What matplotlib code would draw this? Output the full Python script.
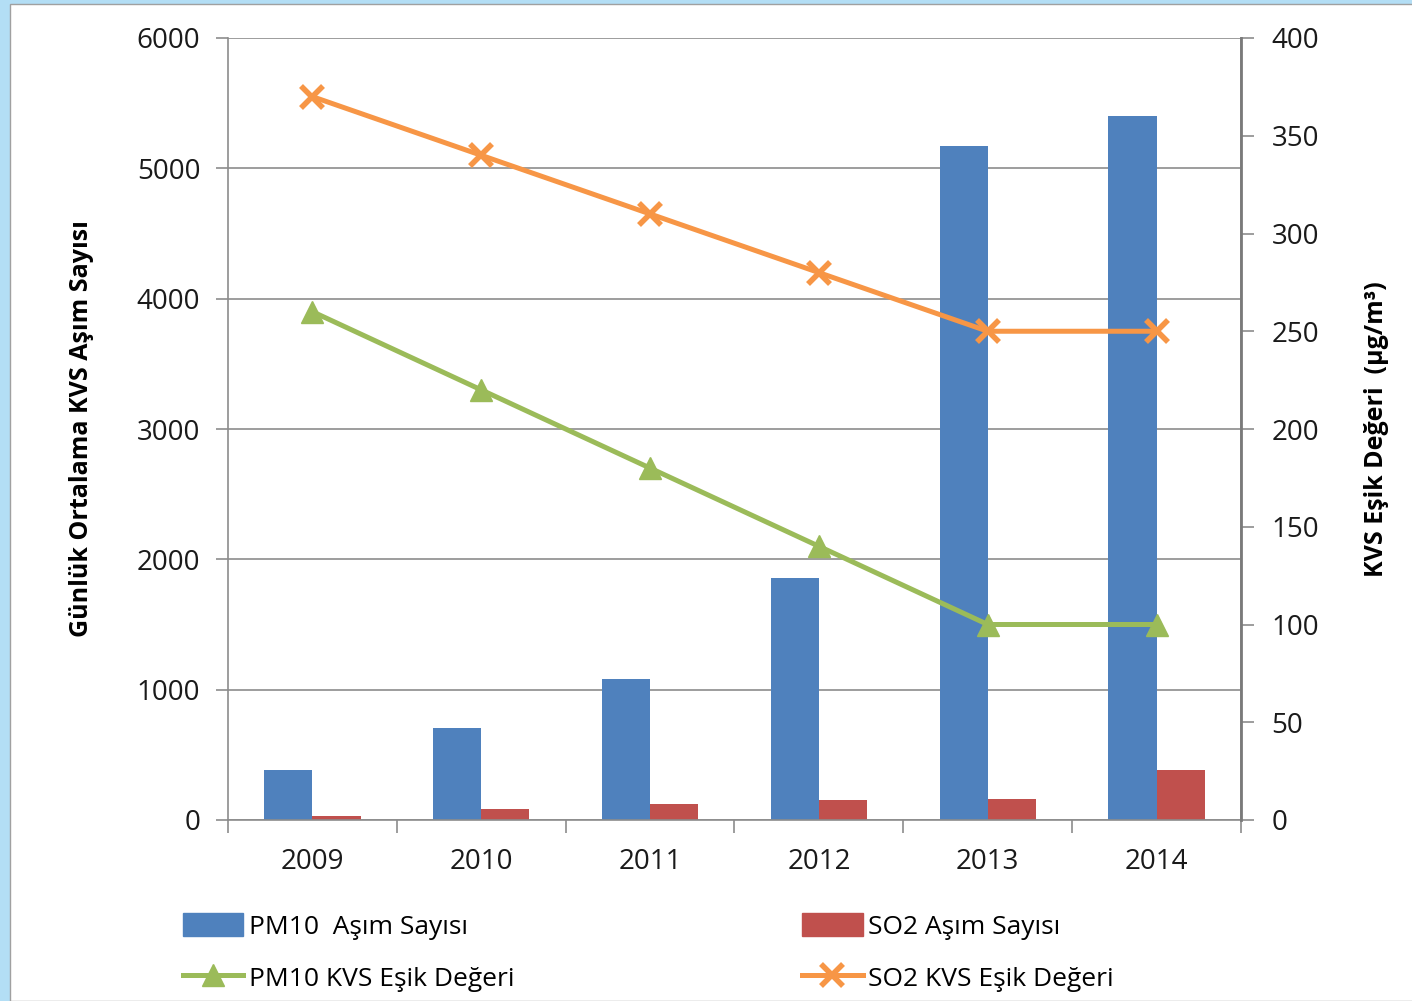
import matplotlib

matplotlib.use("Agg")
import matplotlib.pyplot as plt
import numpy as np
from matplotlib.lines import Line2D
from matplotlib.patches import Patch, Rectangle

years = ["2009", "2010", "2011", "2012", "2013", "2014"]
pm10_exceed = [385, 705, 1080, 1855, 5170, 5400]
so2_exceed = [28, 85, 122, 152, 160, 385]
pm10_limit = [260, 220, 180, 140, 100, 100]
so2_limit = [370, 340, 310, 280, 250, 250]

BLUE = "#4F81BD"
RED = "#C0504D"
GREEN = "#9BBB59"
ORANGE = "#F79646"
GRAY = "#8c8c8c"

plt.rcParams["font.family"] = ["Open Sans", "DejaVu Sans"]

fig = plt.figure(figsize=(14.12, 10.01), dpi=100)
fig.patch.set_facecolor("#b3def5")
bg = Rectangle((10 / 1412, 0), 1, 1 - 4 / 1001, transform=fig.transFigure,
               facecolor="white", edgecolor="#a0a0a0", lw=1, zorder=-10)
fig.patches.append(bg)

ax = fig.add_axes([228 / 1412, 1 - 820 / 1001, (1241 - 228) / 1412, (820 - 38) / 1001])
ax.set_facecolor("none")
x = np.arange(len(years))
w = 0.285
ax.bar(x - w / 2, pm10_exceed, width=w, color=BLUE, zorder=2)
ax.bar(x + w / 2, so2_exceed, width=w, color=RED, zorder=2)
ax.set_xlim(-0.5, len(years) - 0.5)
ax.set_ylim(0, 6000)
ax.set_yticks(range(0, 6001, 1000))
ax.yaxis.grid(True, color=GRAY, lw=1.2, zorder=0)
ax.set_axisbelow(True)
ax.set_xticks(x)
ax.set_xticklabels(years)
ax.set_xticks(np.arange(-0.5, len(years)), minor=True)
ax.tick_params(axis="x", which="major", length=0, pad=20, labelsize=20, colors="#1a1a1a")
ax.tick_params(axis="x", which="minor", length=9, width=1.2, color=GRAY)
ax.tick_params(axis="y", length=9, width=1.2, color=GRAY, labelsize=20, pad=11,
               labelcolor="#1a1a1a")
ax.spines["top"].set_visible(False)
for s in ["left", "bottom", "right"]:
    ax.spines[s].set_color(GRAY)
    ax.spines[s].set_linewidth(1.2)
ax.set_ylabel("Günlük Ortalama KVS Aşım Sayısı", fontsize=18, fontweight="bold", labelpad=31)

ax2 = ax.twinx()
ax2.plot(x, pm10_limit, color=GREEN, lw=3.6, marker="^", ms=16, zorder=3)
ax2.plot(x, so2_limit, color=ORANGE, lw=3.6, marker="x", ms=16, mew=4, zorder=3)
ax2.set_ylim(0, 400)
ax2.set_yticks(range(0, 401, 50))
ax2.tick_params(axis="y", length=9, width=1.2, color=GRAY, labelsize=20, pad=13,
                labelcolor="#1a1a1a")
ax2.spines["top"].set_visible(False)
ax2.spines["left"].set_visible(False)
ax2.spines["bottom"].set_visible(False)
ax2.spines["right"].set_color("#7a7a7a")
ax2.spines["right"].set_linewidth(2)
ax2.set_ylabel("KVS Eşik Değeri  (µg/m³)", fontsize=18, fontweight="bold", labelpad=32)

handles = [
    Patch(color=BLUE),
    Line2D([], [], color=GREEN, lw=3.6, marker="^", ms=16),
    Patch(color=RED),
    Line2D([], [], color=ORANGE, lw=3.6, marker="x", ms=16, mew=4),
]
labels = ["PM10  Aşım Sayısı", "PM10 KVS Eşik Değeri", "SO2 Aşım Sayısı", "SO2 KVS Eşik Değeri"]
fig.legend(handles, labels, ncol=2, loc="upper left", bbox_to_anchor=(159 / 1412, 1 - 889 / 1001),
           frameon=False, fontsize=19, handlelength=2.3, handleheight=1.0, handletextpad=0.2,
           columnspacing=10.9, labelspacing=0.95)

fig.savefig("out.png", dpi=100)
